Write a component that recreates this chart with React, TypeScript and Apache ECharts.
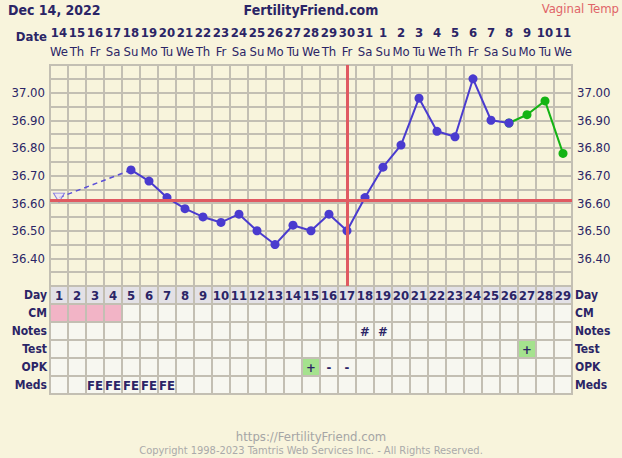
import React, { useEffect, useRef } from "react";
import * as echarts from "echarts";

// ---------- data ----------
const days = ["1","2","3","4","5","6","7","8","9","10","11","12","13","14","15","16","17","18","19","20","21","22","23","24","25","26","27","28","29"];
const dates = ["14","15","16","17","18","19","20","21","22","23","24","25","26","27","28","29","30","31","1","2","3","4","5","6","7","8","9","10","11"];
const weekdays = ["We","Th","Fr","Sa","Su","Mo","Tu","We","Th","Fr","Sa","Su","Mo","Tu","We","Th","Fr","Sa","Su","Mo","Tu","We","Th","Fr","Sa","Su","Mo","Tu","We"];
const rowNames = ["Day", "CM", "Notes", "Test", "OPK", "Meds"];

const firstTemp = 36.62; // day 1, open (discarded) reading
const temps = [null, null, null, null, 36.72, 36.68, 36.62, 36.58, 36.55, 36.53, 36.56, 36.50, 36.45, 36.52, 36.50, 36.56, 36.50, 36.62, 36.73, 36.81, 36.98, 36.86, 36.84, 37.05, 36.90, 36.89, 36.92, 36.97, 36.78];
const lastBlueDay = 26; // after this the line is green
const coverline = 36.61;
const ovulationDay = "17";

const cmPinkDays = [1, 2, 3, 4];
const noteDays = [18, 19];
const testPositiveDays = [27];
const opkPositiveDays = [15];
const opkNegativeDays = [16, 17];
const medsFEDays = [3, 4, 5, 6, 7];

const yMin = 36.3;
const yMax = 37.1;
const yStep = 0.05;
const yLabelMin = 36.4;
const yLabelMax = 37.0;

// ---------- style ----------
const BG = "#f8f4dc";
const NAVY = "#2b2566";
const GRID = "#c3bfb3";
const CELL = "#f7f7f0";
const DAYROW = "#e3e1e6";
const PINK = "#f2b4c6";
const GREEN_BG = "#a5e28e";
const BLUE = "#4a3bcf";
const GREEN = "#14b414";
const RED = "#e05a62";
const FONT = "'DejaVu Sans Condensed', 'DejaVu Sans', sans-serif";

function buildCells() {
  const cells: { d: number; r: number; fill: string; text: string }[] = [];
  rowNames.forEach((row, r) => {
    days.forEach((dayStr, i) => {
      const d = i + 1;
      let fill = r === 0 ? DAYROW : CELL;
      let text = "";
      if (row === "Day") text = dayStr;
      if (row === "CM" && cmPinkDays.includes(d)) fill = PINK;
      if (row === "Notes" && noteDays.includes(d)) text = "#";
      if (row === "Test" && testPositiveDays.includes(d)) { fill = GREEN_BG; text = "+"; }
      if (row === "OPK" && opkPositiveDays.includes(d)) { fill = GREEN_BG; text = "+"; }
      if (row === "OPK" && opkNegativeDays.includes(d)) text = "-";
      if (row === "Meds" && medsFEDays.includes(d)) text = "FE";
      cells.push({ d: i, r, fill, text });
    });
  });
  return cells;
}

export default function App() {
  const ref = useRef<HTMLDivElement>(null);
  useEffect(() => {
    if (!ref.current) return;
    const chart = echarts.init(ref.current, undefined, { renderer: "svg" });
    const cells = buildCells();
    const blueData = temps.map((v, i) => (i < lastBlueDay ? v : null));
    const greenData = temps.map((v, i) => (i >= lastBlueDay - 1 ? v : null));
    const dashedData = temps.map((v, i) => (i === 0 ? firstTemp : i === 4 ? v : null));
    const firstData = temps.map((_, i) => (i === 0 ? firstTemp : null));

    const yLabel = (v: number) => {
      const k = Math.round(v * 100);
      return k % 10 === 0 && k >= Math.round(yLabelMin * 100) && k <= Math.round(yLabelMax * 100)
        ? (k / 100).toFixed(2)
        : "";
    };
    const yLabelStyle = { color: NAVY, fontSize: 13, fontFamily: FONT, formatter: yLabel };
    const rowLabelStyle = { color: NAVY, fontSize: 12, fontWeight: "bold", fontFamily: FONT, margin: 3 };

    const option: any = {
      animation: false,
      backgroundColor: BG,
      textStyle: { fontFamily: FONT },
      grid: [
        { left: 50, top: 65, width: 522, height: 221, show: true, backgroundColor: BG, borderColor: GRID, borderWidth: 2 },
        { left: 50, top: 286, width: 522, height: 108, show: true, backgroundColor: GRID, borderColor: GRID, borderWidth: 2 },
      ],
      xAxis: [
        {
          gridIndex: 0, type: "category", data: days, position: "top", boundaryGap: true,
          axisLine: { show: false }, axisTick: { show: false },
          splitLine: { show: true, interval: 0, lineStyle: { color: GRID, width: 2 } },
          axisLabel: {
            interval: 0, margin: 5,
            formatter: (_v: string, idx: number) => `{d|${dates[idx]}}\n{w|${weekdays[idx]}}`,
            rich: {
              d: { fontSize: 13, fontWeight: "bold", color: NAVY, fontFamily: FONT, lineHeight: 19 },
              w: { fontSize: 13, color: NAVY, fontFamily: FONT, lineHeight: 18 },
            },
          },
        },
        {
          gridIndex: 1, type: "category", data: days, boundaryGap: true,
          axisLine: { show: false }, axisTick: { show: false }, axisLabel: { show: false },
          splitLine: { show: false },
        },
      ],
      yAxis: [
        {
          gridIndex: 0, type: "value", min: yMin, max: yMax, interval: yStep, position: "left",
          axisLine: { show: false }, axisTick: { show: false },
          splitLine: { show: true, lineStyle: { color: GRID, width: 2 } },
          axisLabel: { ...yLabelStyle, margin: 5 },
        },
        {
          gridIndex: 0, type: "value", min: yMin, max: yMax, interval: yStep, position: "right",
          axisLine: { show: false }, axisTick: { show: false }, splitLine: { show: false },
          axisLabel: { ...yLabelStyle, margin: 5 },
        },
        {
          gridIndex: 1, type: "category", data: rowNames, inverse: true, position: "left",
          axisLine: { show: false }, axisTick: { show: false }, splitLine: { show: false },
          axisLabel: rowLabelStyle,
        },
        {
          gridIndex: 1, type: "category", data: rowNames, inverse: true, position: "right",
          axisLine: { show: false }, axisTick: { show: false }, splitLine: { show: false },
          axisLabel: rowLabelStyle,
        },
      ],
      series: [
        {
          type: "line", xAxisIndex: 0, yAxisIndex: 0, data: [], z: 1, silent: true,
          markLine: {
            silent: true, symbol: "none", label: { show: false },
            lineStyle: { color: RED, width: 3, type: "solid" },
            data: [{ yAxis: coverline }, { xAxis: ovulationDay }],
          },
        },
        {
          type: "line", xAxisIndex: 0, yAxisIndex: 0, data: dashedData, connectNulls: true, z: 2,
          symbol: "none", lineStyle: { color: "#5b4fd8", width: 1.5, type: [5, 4] },
        },
        {
          type: "scatter", xAxisIndex: 0, yAxisIndex: 0, data: firstData, z: 4,
          symbol: "triangle", symbolRotate: 180, symbolSize: [11, 9],
          itemStyle: { color: "#ece6f2", borderColor: "#6a5de0", borderWidth: 1 },
        },
        {
          type: "line", xAxisIndex: 0, yAxisIndex: 0, data: greenData, z: 3,
          symbol: "circle", symbolSize: 9, showAllSymbol: true,
          lineStyle: { color: GREEN, width: 2 }, itemStyle: { color: GREEN },
        },
        {
          type: "line", xAxisIndex: 0, yAxisIndex: 0, data: blueData, z: 4,
          symbol: "circle", symbolSize: 9, showAllSymbol: true,
          lineStyle: { color: BLUE, width: 2 }, itemStyle: { color: BLUE },
        },
        {
          type: "custom", xAxisIndex: 1, yAxisIndex: 2, z: 2,
          data: cells.map((c) => [c.d, c.r]),
          renderItem: (params: any, api: any) => {
            const cell = cells[params.dataIndex];
            const p = api.coord([api.value(0), api.value(1)]);
            const s = api.size([1, 1]);
            const children: any[] = [
              {
                type: "rect",
                shape: { x: p[0] - s[0] / 2 + 1, y: p[1] - s[1] / 2 + 1, width: s[0] - 2, height: s[1] - 2 },
                style: { fill: cell.fill },
              },
            ];
            if (cell.text) {
              children.push({
                type: "text",
                x: p[0], y: p[1],
                style: {
                  text: cell.text, fill: NAVY, font: `bold 13px ${FONT}`,
                  align: "center", verticalAlign: "middle",
                },
              });
            }
            return { type: "group", children };
          },
        },
      ],
      graphic: [
        { type: "text", x: 8, y: 10, style: { text: "Dec 14, 2022", fill: NAVY, font: `bold 14px ${FONT}`, verticalAlign: "middle" } },
        { type: "text", x: 311, y: 10, style: { text: "FertilityFriend.com", fill: NAVY, font: `bold 14px ${FONT}`, align: "center", verticalAlign: "middle" } },
        { type: "text", x: 619, y: 8, style: { text: "Vaginal Temp", fill: "#e06468", font: `13px ${FONT}`, align: "right", verticalAlign: "middle" } },
        { type: "text", x: 47, y: 36, style: { text: "Date", fill: NAVY, font: `bold 13px ${FONT}`, align: "right", verticalAlign: "middle" } },
        { type: "text", x: 311, y: 436, style: { text: "https://FertilityFriend.com", fill: "#a5a5a5", font: `13px ${FONT}`, align: "center", verticalAlign: "middle" } },
        { type: "text", x: 311, y: 450, style: { text: "Copyright 1998-2023 Tamtris Web Services Inc. - All Rights Reserved.", fill: "#aaaaaa", font: `11px ${FONT}`, align: "center", verticalAlign: "middle" } },
      ],
    };
    chart.setOption(option);
    return () => chart.dispose();
  }, []);
  return <div ref={ref} style={{ position: "absolute", left: 0, top: 0, width: 622, height: 458 }} />;
}
